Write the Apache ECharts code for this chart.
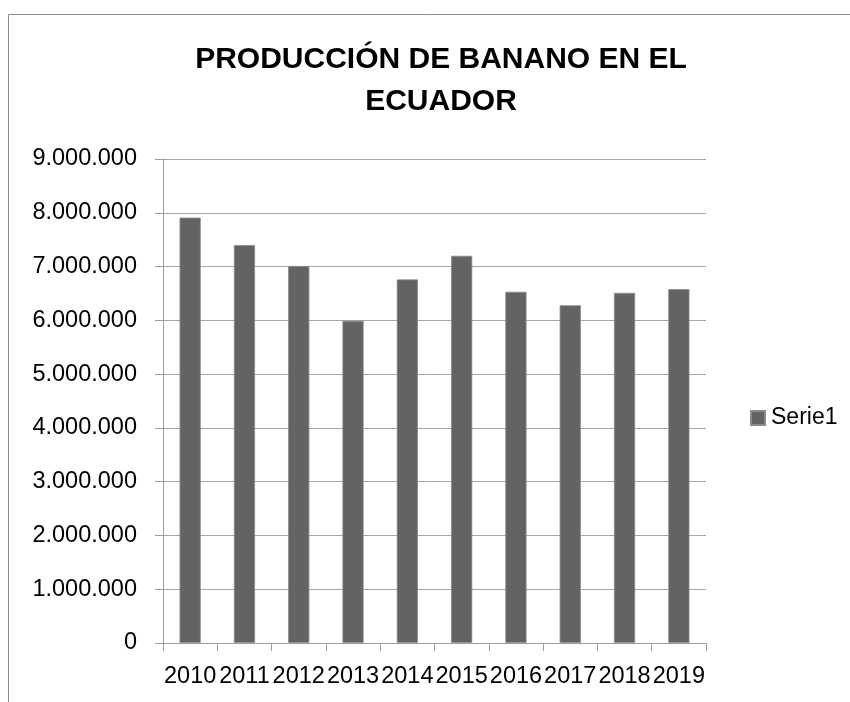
<!DOCTYPE html>
<html>
<head>
<meta charset="utf-8">
<script src="https://cdn.jsdelivr.net/npm/echarts@6/dist/echarts.min.js"></script>
<style>
html,body{margin:0;padding:0;background:#fff;}
#chart{width:850px;height:702px;}
</style>
</head>
<body>
<div id="chart"></div>
<script>
var titleText = 'PRODUCCIÓN DE BANANO EN EL\nECUADOR';
var categories = ['2010','2011','2012','2013','2014','2015','2016','2017','2018','2019'];
var serieName = 'Serie1';
var values = [7910000, 7400000, 7010000, 5990000, 6760000, 7200000, 6530000, 6280000, 6510000, 6580000];
var yTicks = [0, 1000000, 2000000, 3000000, 4000000, 5000000, 6000000, 7000000, 8000000, 9000000];

function fmt(v){
  return String(Math.round(v)).replace(/\B(?=(\d{3})+(?!\d))/g, '.');
}

var FONT = 'Liberation Sans, Arial, sans-serif';
var chart = echarts.init(document.getElementById('chart'), null, {renderer:'canvas'});
chart.setOption({
  animation: false,
  backgroundColor: '#ffffff',
  graphic: [{
    type: 'rect',
    shape: {x: 8.5, y: 14.5, width: 900, height: 800},
    style: {fill: 'none', stroke: '#8c8c8c', lineWidth: 1},
    silent: true
  }],
  title: {
    text: titleText,
    left: 441,
    textAlign: 'center',
    top: 39,
    padding: 0,
    textStyle: {
      fontFamily: FONT,
      fontWeight: 'bold',
      fontSize: 30,
      lineHeight: 42,
      color: '#000'
    }
  },
  legend: {
    data: [serieName],
    orient: 'vertical',
    left: 750,
    top: 406,
    padding: 0,
    itemWidth: 14,
    itemHeight: 14,
    itemGap: 5,
    icon: 'rect',
    textStyle: {fontFamily: FONT, fontSize: 23, lineHeight: 24, color: '#000', padding: [0,0,0,1]}
  },
  grid: {left: 163, right: 144, top: 159, bottom: 59, containLabel: false},
  xAxis: {
    type: 'category',
    data: categories,
    boundaryGap: true,
    axisLine: {show: true, lineStyle: {color: '#9f9f9f', width: 1}},
    axisTick: {show: true, alignWithLabel: false, length: 8, lineStyle: {color: '#9f9f9f'}},
    axisLabel: {interval: 0, margin: 22, fontFamily: FONT, fontSize: 23.5, color: '#000', hideOverlap: false},
    splitLine: {show: false}
  },
  yAxis: {
    type: 'value',
    min: 0,
    max: 9000000,
    interval: 1000000,
    axisLine: {show: true, lineStyle: {color: '#9f9f9f', width: 1}},
    axisTick: {show: true, length: 8, lineStyle: {color: '#9f9f9f'}},
    axisLabel: {margin: 26, fontFamily: FONT, fontSize: 23.5, color: '#000',
      formatter: function(v){ return yTicks.indexOf(v) >= 0 ? fmt(v) : ''; }},
    splitLine: {show: true, lineStyle: {color: '#a6a6a6', width: 1}}
  },
  series: [{
    name: serieName,
    type: 'bar',
    data: values,
    barWidth: '39%',
    itemStyle: {color: '#636363', borderColor: '#8a8a8a', borderWidth: 0.8}
  }]
});
</script>
</body>
</html>
